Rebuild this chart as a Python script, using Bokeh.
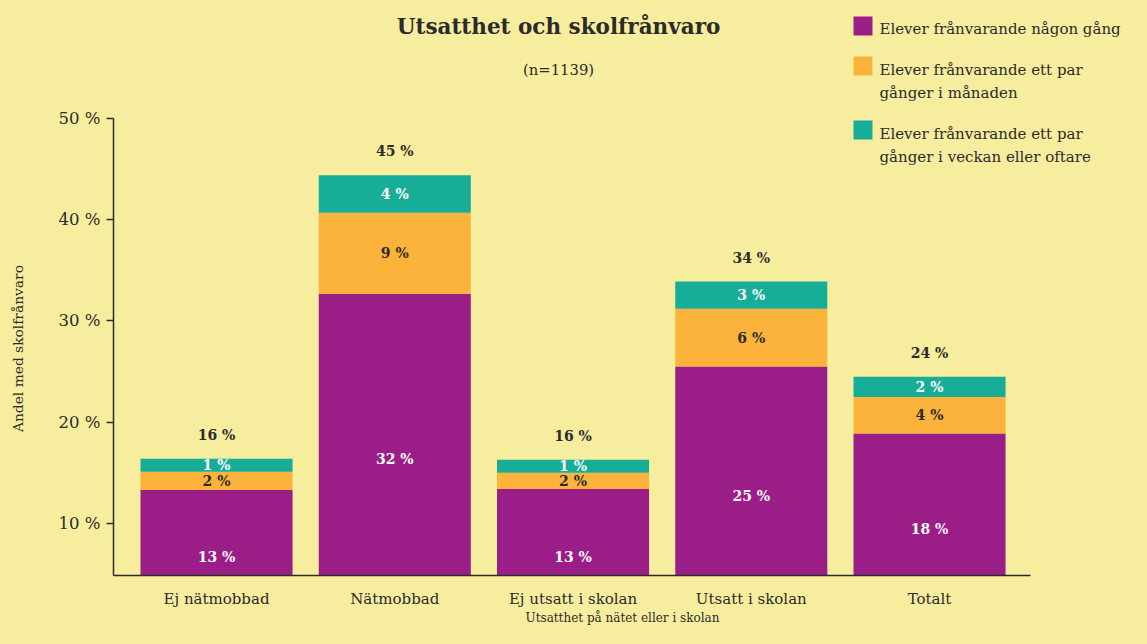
import math
from bokeh.plotting import figure
from bokeh.layouts import row
from bokeh.models import (ColumnDataSource, Range1d, FixedTicker, Label, BoxAnnotation)
from bokeh.embed import file_html
from bokeh.resources import INLINE
from bokeh.core.properties import value

# ---------------- data ----------------
categories = ["Ej nätmobbad", "Nätmobbad", "Ej utsatt i skolan", "Utsatt i skolan", "Totalt"]
nagon_gang = [13.3, 32.7, 13.4, 25.5, 18.9]
par_manad = [1.8, 8.0, 1.6, 5.7, 3.6]
par_vecka = [1.3, 3.7, 1.3, 2.7, 2.0]

nagon_lbl = ["13 %", "32 %", "13 %", "25 %", "18 %"]
manad_lbl = ["2 %", "9 %", "2 %", "6 %", "4 %"]
vecka_lbl = ["1 %", "4 %", "1 %", "3 %", "2 %"]
total_lbl = ["16 %", "45 %", "16 %", "34 %", "24 %"]

series_lines = [["Elever frånvarande någon gång"],
                ["Elever frånvarande ett par", "gånger i månaden"],
                ["Elever frånvarande ett par", "gånger i veckan eller oftare"]]

y_ticks = [10, 20, 30, 40, 50]
y_tick_labels = ["10 %", "20 %", "30 %", "40 %", "50 %"]

title_text = "Utsatthet och skolfrånvaro"
subtitle_text = "(n=1139)"
x_title = "Utsatthet på nätet eller i skolan"
y_title = "Andel med skolfrånvaro"

# ---------------- style ----------------
FONT = "DejaVu Serif"
BG = "#F6EE9E"
TXT = "#2b2b2b"
COLORS = ["#9B1D87", "#FBB33C", "#18AD99"]

W, H = 1131, 628
SIDE_W = 40            # narrow strip holding the y-axis title
LEFT_BORDER = 73       # main figure left border (axis + tick labels)
BOTTOM_BORDER = 53

# axis extents (value space)
Y_MIN, Y_AXIS_TOP, Y_MAX = 4.864, 50, 61.654
X_MIN, X_AXIS_END, X_MAX = -0.578, 4.567, 5.133

# ---------------- derived ----------------
xpos = list(range(len(categories)))
mid_n = [a / 2 for a in nagon_gang]
mid_m = [a + b / 2 for a, b in zip(nagon_gang, par_manad)]
mid_v = [a + b + c / 2 for a, b, c in zip(nagon_gang, par_manad, par_vecka)]
tot = [a + b + c for a, b, c in zip(nagon_gang, par_manad, par_vecka)]

src = ColumnDataSource(dict(x=xpos, nagon=nagon_gang, manad=par_manad, vecka=par_vecka,
                            mid_n=mid_n, mid_m=mid_m, mid_v=mid_v, tot=tot,
                            ln=nagon_lbl, lm=manad_lbl, lv=vecka_lbl, lt=total_lbl))

# ---------------- side strip with the y title ----------------
side = figure(width=SIDE_W, height=H, x_range=Range1d(0, 1), y_range=Range1d(0, 1),
              output_backend="svg", toolbar_location=None,
              min_border=0, background_fill_color=BG, border_fill_color=BG,
              outline_line_color=None)
side.axis.visible = False
side.grid.visible = False
# frame of this strip is aligned with the main frame (bottom at H - BOTTOM_BORDER)
side.add_layout(Label(x=17, y=(H - BOTTOM_BORDER) - 348, x_units="screen", y_units="screen",
                      text=y_title, angle=math.pi / 2, text_align="center", text_baseline="middle",
                      text_font=FONT, text_font_size="13.8px", text_color=TXT))

# ---------------- main chart ----------------
p = figure(width=W - SIDE_W, height=H,
           x_range=Range1d(X_MIN, X_MAX), y_range=Range1d(Y_MIN, Y_MAX),
           output_backend="svg", toolbar_location=None,
           min_border_left=LEFT_BORDER, min_border_right=0, min_border_top=0,
           min_border_bottom=BOTTOM_BORDER,
           background_fill_color=BG, border_fill_color=BG, outline_line_color=None)

p.xgrid.visible = False
p.ygrid.visible = False

bars = p.vbar_stack(["nagon", "manad", "vecka"], x="x", width=0.853, color=COLORS,
                    line_color=None, source=src)

common = dict(source=src, text_align="center", text_baseline="middle",
              text_font=value(FONT), text_font_style="bold", text_font_size="14px")
p.text(x="x", y="mid_n", text="ln", text_color="white", **common)
p.text(x="x", y="mid_m", text="lm", text_color=TXT, **common)
p.text(x="x", y="mid_v", text="lv", text_color="white", **common)
p.text(x="x", y="tot", text="lt", text_color=TXT, y_offset=-24, **common)

# axes
ya = p.yaxis[0]
ya.bounds = (Y_MIN, Y_AXIS_TOP)
ya.ticker = FixedTicker(ticks=y_ticks)
ya.major_label_overrides = {t: l for t, l in zip(y_ticks, y_tick_labels)}
ya.minor_tick_line_color = None
ya.major_tick_in = 0
ya.major_tick_out = 7
ya.major_tick_line_color = TXT
ya.major_tick_line_width = 1.5
ya.axis_line_color = TXT
ya.axis_line_width = 1.5
ya.major_label_standoff = 6
ya.major_label_text_font = FONT
ya.major_label_text_font_size = "16.5px"
ya.major_label_text_color = TXT
ya.major_label_text_baseline = "alphabetic"

xa = p.xaxis[0]
xa.bounds = (X_MIN, X_AXIS_END)
xa.ticker = FixedTicker(ticks=xpos)
xa.major_label_overrides = {i: c for i, c in zip(xpos, categories)}
xa.major_tick_line_color = None
xa.minor_tick_line_color = None
xa.axis_line_color = TXT
xa.axis_line_width = 1.5
xa.major_label_standoff = 8
xa.major_label_text_font = FONT
xa.major_label_text_font_size = "15px"
xa.major_label_text_color = TXT
xa.axis_label = x_title
xa.axis_label_text_font = FONT
xa.axis_label_text_font_style = "normal"
xa.axis_label_text_font_size = "12px"
xa.axis_label_text_color = TXT
xa.axis_label_standoff = 0

# title & subtitle (screen units relative to the frame's bottom-left)
p.add_layout(Label(x=445, y=549, x_units="screen", y_units="screen", text=title_text,
                   text_align="center", text_baseline="middle", text_font=FONT,
                   text_font_style="bold", text_font_size="21.5px", text_color=TXT))
p.add_layout(Label(x=445, y=506, x_units="screen", y_units="screen", text=subtitle_text,
                   text_align="center", text_baseline="middle", text_font=FONT,
                   text_font_size="14.8px", text_color=TXT))

# legend (swatches + label lines), frame-relative screen units
sw_left, sw_size, txt_x = 740, 19, 766
sw_tops = [559, 519, 455]
line_ys = [[547], [506, 483], [442, 419]]
for color, top, lines, ys in zip(COLORS, sw_tops, series_lines, line_ys):
    p.add_layout(BoxAnnotation(left=sw_left, right=sw_left + sw_size, top=top, bottom=top - sw_size,
                               left_units="screen", right_units="screen",
                               top_units="screen", bottom_units="screen",
                               fill_color=color, fill_alpha=1, line_color=None))
    for t, yy in zip(lines, ys):
        p.add_layout(Label(x=txt_x, y=yy, x_units="screen", y_units="screen", text=t,
                           text_align="left", text_baseline="middle", text_font=FONT,
                           text_font_size="15px", text_color=TXT))

layout = row(side, p, spacing=0)
html = file_html(layout, INLINE)
html = html.replace("</head>", "<style>html, body { background: %s; }</style></head>" % BG, 1)
open("out.html", "w").write(html)
